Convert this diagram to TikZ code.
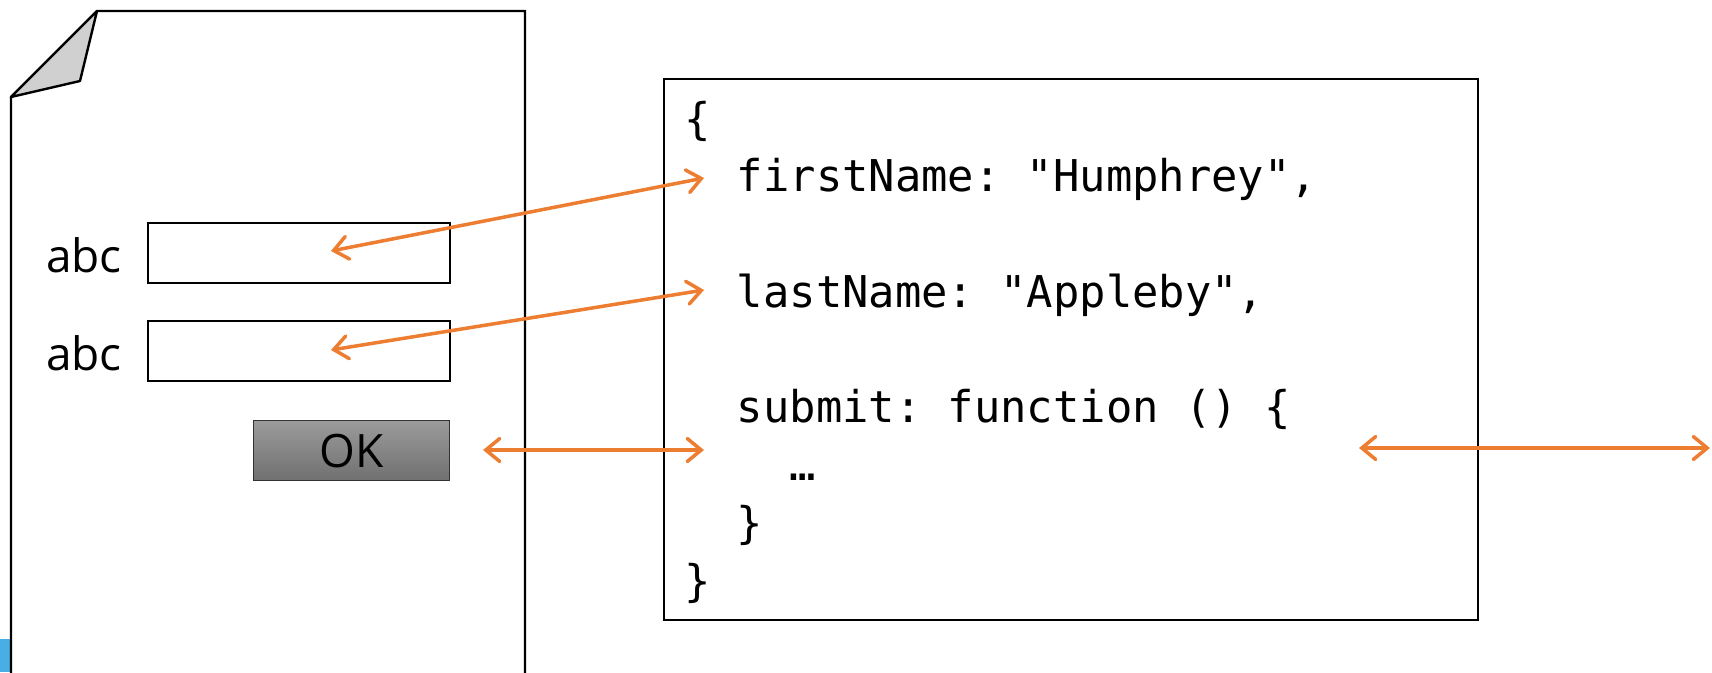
\documentclass[tikz,border=0pt]{standalone}
\usepackage{fontspec}
\setmainfont{Open Sans}
\setmonofont{DejaVu Sans Mono}
\usetikzlibrary{arrows.meta,calc}
\definecolor{arr}{RGB}{237,125,49}
\definecolor{foldgray}{RGB}{208,208,208}
\definecolor{blueb}{RGB}{72,174,228}
\begin{document}
\begin{tikzpicture}[x=1pt,y=-1pt,
  link/.style={draw=arr,line width=3.5pt,line cap=round,
    {Straight Barb[length=14pt,width=23pt,line cap=round]}-{Straight Barb[length=14pt,width=23pt,line cap=round]}},
  field/.style={draw=black,line width=2.2pt,minimum width=302pt,minimum height=60pt,inner sep=0pt,anchor=north west},
  lbl/.style={font=\fontsize{46}{54}\selectfont,inner sep=0pt,anchor=base west},
  code/.style={font=\ttfamily\fontsize{43.8}{52}\selectfont,anchor=base west,inner sep=0pt},
  outline/.style={draw=black,line width=2.4pt,line join=miter},
]
\useasboundingbox (0,0) rectangle (1712,672);
\clip (0,0) rectangle (1712,672);

% blue fragment at bottom-left
\fill[blueb] (0,639) rectangle (11,672);

% document page with folded corner
\draw[outline,fill=white] (11,700) -- (11,97) -- (97,11) -- (525,11) -- (525,700);
\draw[outline,fill=foldgray,line join=round] (97,11) -- (11,97) -- (80,81) -- cycle;

% form fields
\node[field] (f1) at (147,222) {};
\node[field] (f2) at (147,320) {};
\node[lbl] (l1) at (46,272) {abc};
\node[lbl] (l2) at (46,370) {abc};
\node[draw={rgb,255:red,50;green,50;blue,50},line width=1.2pt,minimum width=196pt,minimum height=60pt,
      inner sep=0pt,anchor=north west,
      top color={rgb,255:red,155;green,155;blue,155},bottom color={rgb,255:red,112;green,112;blue,112}]
      (ok) at (253,420) {};
\node[font=\fontsize{46}{54}\selectfont,inner sep=0pt] (oktxt) at (ok.center) {OK};

% code box
\draw[line width=2.2pt] (664,79) rectangle (1478,620);
\node[code] (c1) at (684,134) {\{};
\node[code] (c2) at (684,191.5) {\ \ firstName: "Humphrey",};
\node[code] (c3) at (684,307) {\ \ lastName: "Appleby",};
\node[code] (c4) at (684,422.5) {\ \ submit: function () \{};
\node[code] (c5) at (684,480) {\ \ \ \ …};
\node[code] (c6) at (684,538) {\ \ \}};
\node[code] (c7) at (684,596) {\}};

% connector end points
\coordinate (a1) at (331,251);
\coordinate (b1) at (704,178);
\coordinate (a2) at (331,350);
\coordinate (b2) at (704,290);
\coordinate (a3) at (483,450);
\coordinate (b3) at (704,450);
\coordinate (a4) at (1359,448);
\coordinate (b4) at (1710,448);

\draw[link] (a1) -- (b1);
\draw[link] (a2) -- (b2);
\draw[link] (a3) -- (b3);
\draw[link] (a4) -- (b4);
\end{tikzpicture}
\end{document}
